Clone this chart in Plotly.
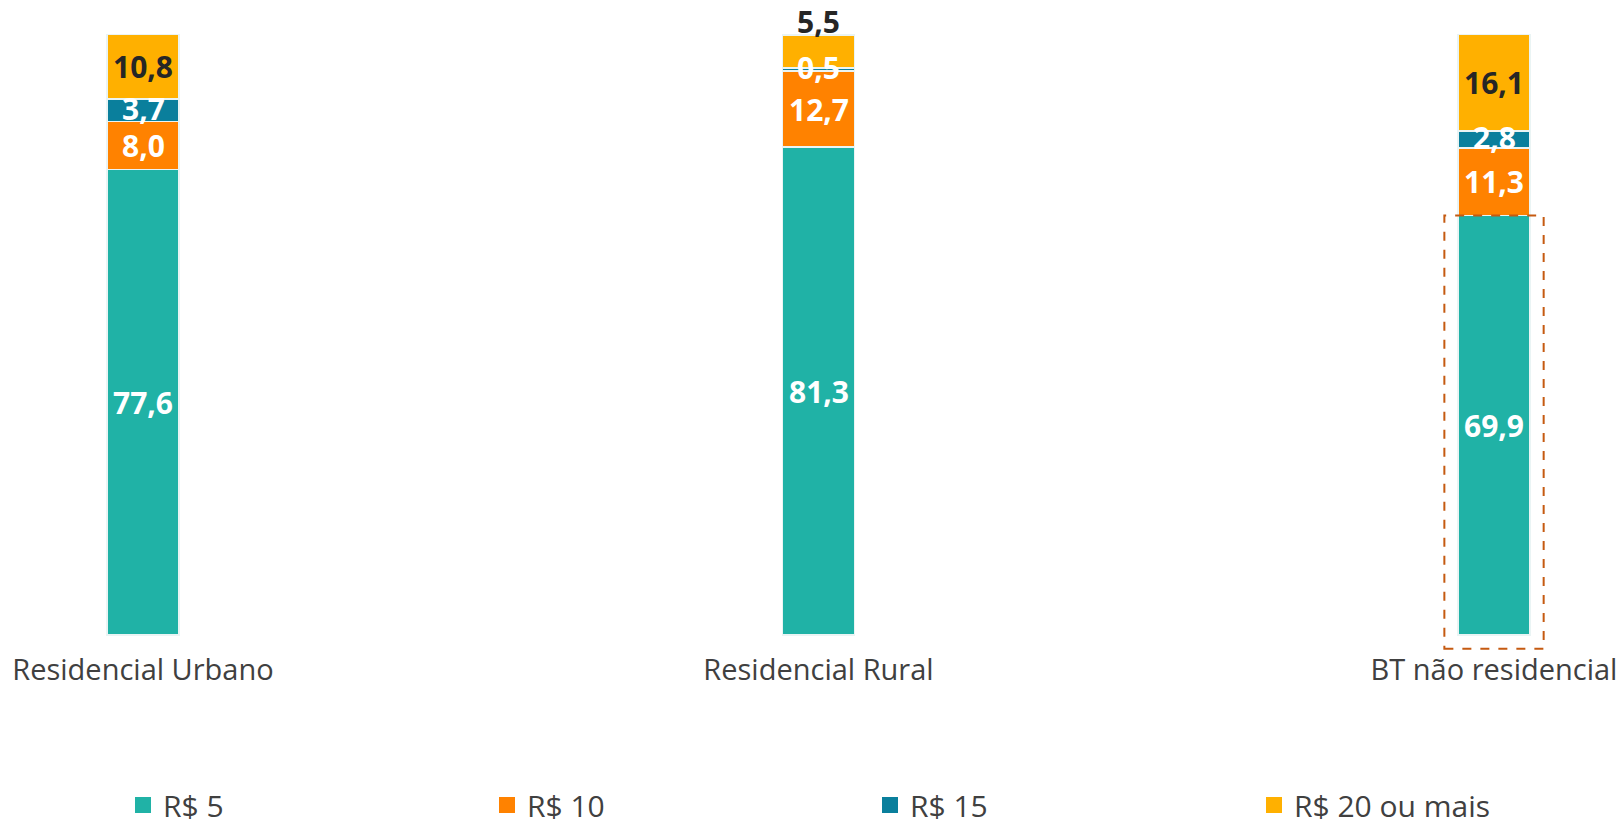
import plotly.graph_objects as go
import numpy as np

categories = ["Residencial Urbano", "Residencial Rural", "BT não residencial"]
series_names = ["R$ 5", "R$ 10", "R$ 15", "R$ 20 ou mais"]
r5 = [77.6, 81.3, 69.9]
r10 = [8.0, 12.7, 11.3]
r15 = [3.7, 0.5, 2.8]
r20 = [10.8, 5.5, 16.1]

colors = ["#20B2A6", "#FF8200", "#0A7F9C", "#FFB000"]
label_colors = ["white", "white", "white", "#262626"]
series = [r5, r10, r15, r20]

FONT = "Open Sans"
xpos = np.arange(len(categories))
bar_w = 0.107

W, H = 1621, 827
T, B = 11, 177
Y0, Y1 = -2.5, 104

fig = go.Figure()
for name, vals, col in zip(series_names, series, colors):
    fig.add_trace(go.Bar(
        x=xpos, y=vals, name=name, width=bar_w,
        marker=dict(color=col, line=dict(color="#EAF4F4", width=1.5)),
        hoverinfo="skip", showlegend=False,
    ))

legend_ids = ["legend", "legend2", "legend3", "legend4"]
for name, col, lid in zip(series_names, colors, legend_ids):
    fig.add_trace(go.Scatter(
        x=[None], y=[None], mode="markers", name=name,
        marker=dict(symbol="square", size=16, color=col),
        legend=lid, showlegend=True,
    ))

base = np.zeros(len(categories))
for si, (vals, lc) in enumerate(zip(series, label_colors)):
    vals = np.array(vals)
    centers = base + vals / 2
    for i in range(len(categories)):
        txt = f"{vals[i]:.1f}".replace(".", ",")
        if si == 3 and i == 1:
            fig.add_annotation(x=xpos[i], y=base[i] + vals[i], text=f"<b>{txt}</b>",
                               showarrow=False, yanchor="bottom", yshift=-9,
                               font=dict(family=FONT, size=30, color=lc))
        else:
            fig.add_annotation(x=xpos[i], y=centers[i], text=f"<b>{txt}</b>",
                               showarrow=False, yanchor="middle", yshift=2 if vals[i] < 5 else 0,
                               font=dict(family=FONT, size=30, color=lc))
    base = base + vals

fig.add_shape(type="rect", xref="x", yref="y",
              x0=xpos[2] - bar_w / 2 - 0.02, x1=xpos[2] + bar_w / 2 + 0.02,
              y0=-2.3, y1=r5[2],
              line=dict(color="#C55A11", width=2, dash="dash"),
              fillcolor="rgba(0,0,0,0)")

plot_h = H - T - B
leg_y = (H - B - 805) / plot_h
leg_x_px = [123, 487, 870, 1254]
legend_common = dict(orientation="h", xanchor="left", y=leg_y, yanchor="middle",
                     font=dict(family=FONT, size=30, color="#404040"),
                     bgcolor="rgba(0,0,0,0)", borderwidth=0)

layout_legends = {}
for lid, lx in zip(legend_ids, leg_x_px):
    layout_legends[lid] = dict(x=lx / W, **legend_common)

fig.update_layout(
    barmode="stack",
    width=W, height=H,
    margin=dict(l=0, r=0, t=T, b=B, autoexpand=False),
    plot_bgcolor="white", paper_bgcolor="white",
    font=dict(family=FONT, color="#404040"),
    xaxis=dict(range=[-0.2117, 2.188], tickvals=list(xpos), ticktext=categories,
               showgrid=False, zeroline=False, showline=False, automargin=False,
               tickfont=dict(family=FONT, size=29, color="#404040"), ticks=""),
    yaxis=dict(range=[Y0, Y1], visible=False, showgrid=False, zeroline=False),
    showlegend=True,
    **layout_legends,
)

fig.write_html(
    "out.html",
    config={"displayModeBar": False},
    post_script="document.body.style.margin='0';document.documentElement.style.overflow='hidden';",
)
